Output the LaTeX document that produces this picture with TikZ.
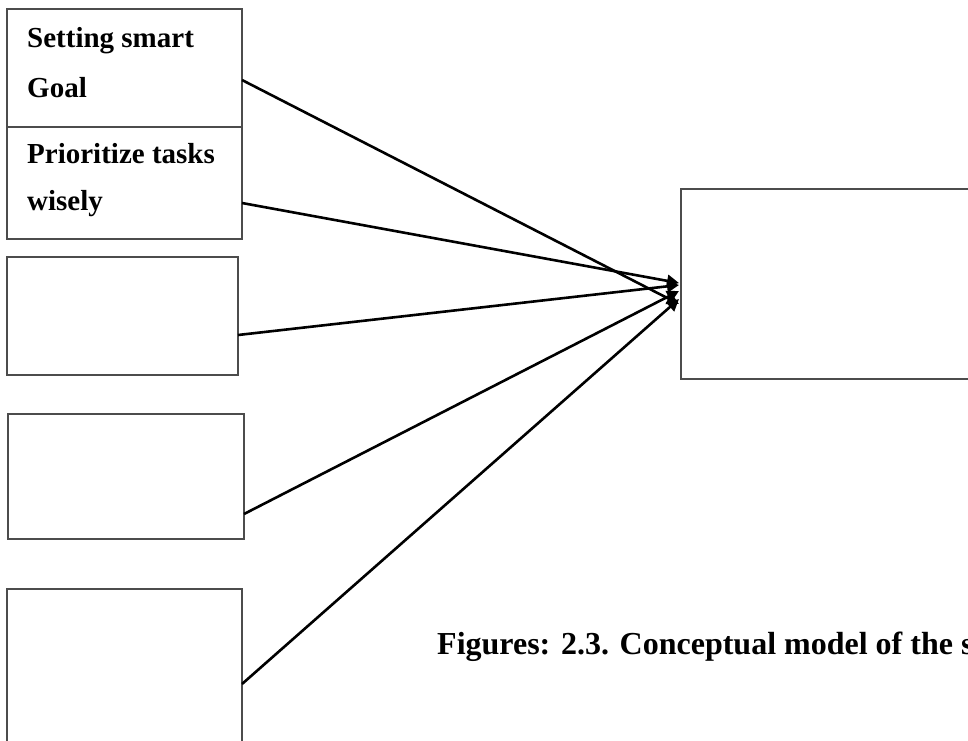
\documentclass[tikz,border=0pt]{standalone}
\usepackage{fontspec}
\setmainfont{Liberation Serif}
\usetikzlibrary{arrows.meta}
\begin{document}
\begin{tikzpicture}[x=1pt,y=-1pt,
  box/.style={draw=black!70,line width=1.7pt,rectangle,inner sep=0pt,outer sep=0pt},
  conn/.style={draw=black,line width=2.6pt,-{Triangle[length=12pt,width=12pt]}},
  lbl/.style={anchor=base west,inner sep=0pt,font=\fontsize{29}{29}\selectfont\bfseries},
  captxt/.style={anchor=base west,inner sep=0pt,font=\fontsize{32}{32}\selectfont\bfseries}]
\useasboundingbox (0,0) rectangle (968,740);
\clip (0,0) rectangle (968,740);
\fill[white] (0,0) rectangle (968,740);
\node[box,minimum width=235pt,minimum height=118pt] (b1) at (124.5,68) {};
\node[box,minimum width=235pt,minimum height=112pt] (b2) at (124.5,183) {};
\node[box,minimum width=231pt,minimum height=118pt] (b3) at (122.5,316) {};
\node[box,minimum width=236pt,minimum height=125pt] (b4) at (126,476.5) {};
\node[box,minimum width=235pt,minimum height=171pt] (b5) at (124.5,674.5) {};
\node[box,minimum width=319pt,minimum height=190pt] (r) at (840.5,284) {};
\node[lbl] (t1) at (27,47) {Setting smart};
\node[lbl] (t2) at (27,97) {Goal};
\node[lbl] (t3) at (27,163) {Prioritize tasks};
\node[lbl] (t4) at (27,210) {wisely};
\node[captxt] (c) at (437,654) {Figures: 2.3. Conceptual model of the s};
\draw[conn] ([yshift=-12pt]b1.east) -- ([xshift=-2pt,yshift=-20pt]r.west);
\draw[conn] ([yshift=-20pt]b2.east) -- ([xshift=-2pt,yshift=1pt]r.west);
\draw[conn] ([yshift=-19pt]b3.east) -- ([xshift=-2pt,yshift=-1pt]r.west);
\draw[conn] ([yshift=-37.5pt]b4.east) -- ([xshift=-2pt,yshift=-7pt]r.west);
\draw[conn] ([yshift=-9.5pt]b5.east) -- ([xshift=-2pt,yshift=-15pt]r.west);
\end{tikzpicture}
\end{document}
